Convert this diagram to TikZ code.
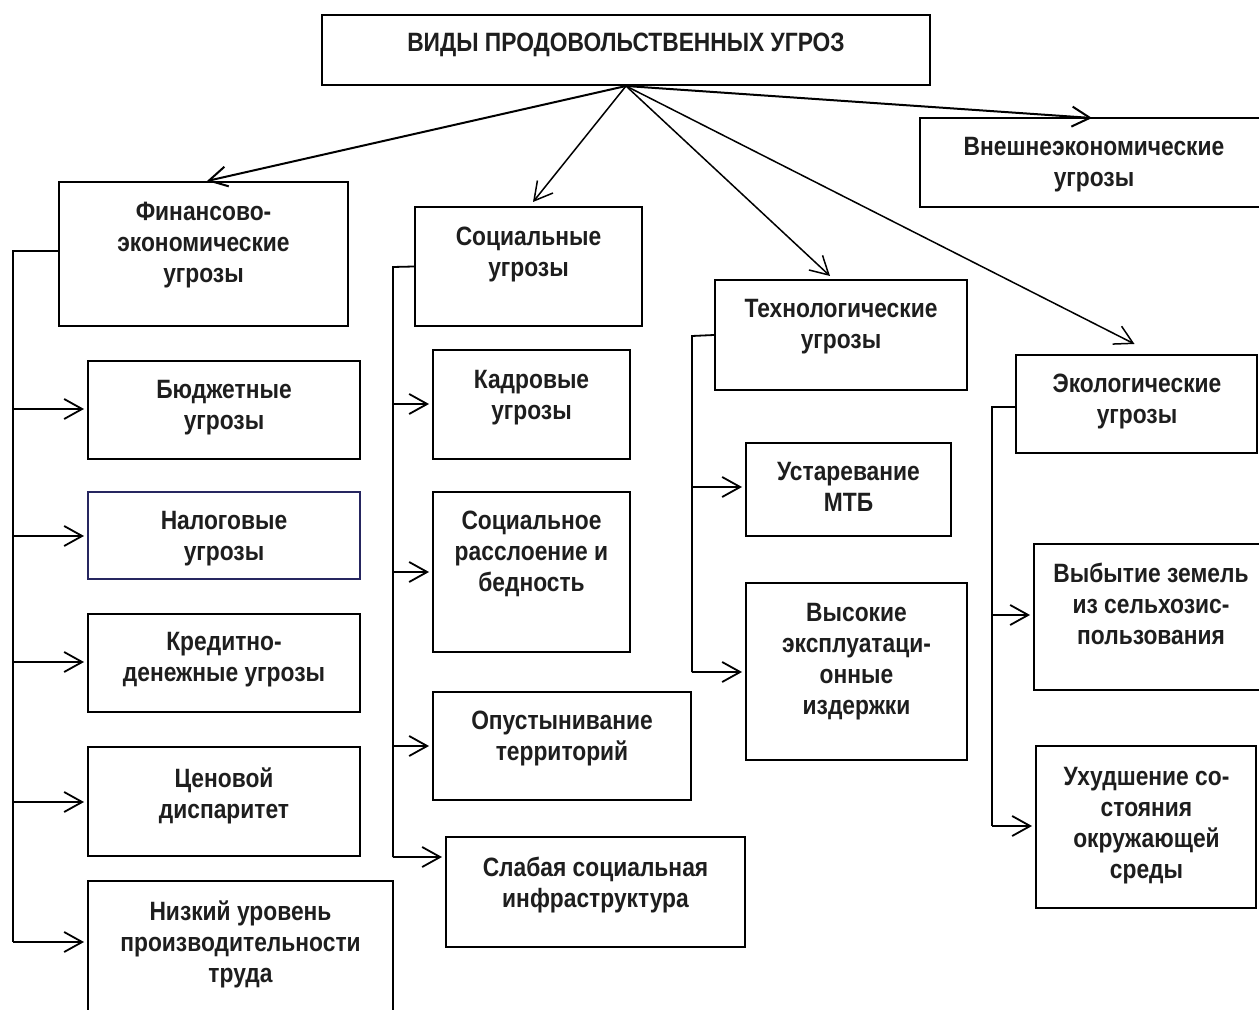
\documentclass[tikz,border=0pt]{standalone}
\usepackage{fontspec}
\newfontfamily\nar{Liberation Sans}[FakeStretch=0.86]
\usetikzlibrary{arrows.meta,fit}
\definecolor{taxedge}{RGB}{38,38,96}
\definecolor{ink}{RGB}{30,30,30}
\begin{document}
\begin{tikzpicture}[x=0.5pt,y=-0.5pt,
  box/.style={draw=black,line width=1pt,inner sep=0pt},
  txt/.style={font={\nar\bfseries\fontsize{13.25pt}{15.5pt}\selectfont},align=center,inner sep=0pt,text=ink,anchor=north},
  arr/.style={line width=0.9pt,-{Straight Barb[length=9pt,width=10pt]},shorten >=1.5pt},
  toparr/.style={line width=0.75pt,-{Straight Barb[length=9pt,width=10pt]}},
  trunk/.style={line width=0.9pt}]
\useasboundingbox (0,0) rectangle (1259,1010);
\clip (0,0) rectangle (1259,1010);
% boxes
\node[box,fit={(322,15)(930,85)}] (title) {};
\node[box,fit={(59,182)(348,326)}] (fin) {};
\node[box,fit={(415,207)(642,326)}] (soc) {};
\node[box,fit={(715,280)(967,390)}] (tech) {};
\node[box,fit={(1016,355)(1257,453)}] (eco) {};
\node[box,fit={(920,118)(1275,207)}] (ext) {};
\node[box,fit={(88,361)(360,459)}] (budget) {};
\node[box,draw=taxedge,fit={(88,492)(360,579)}] (tax) {};
\node[box,fit={(88,614)(360,712)}] (credit) {};
\node[box,fit={(88,747)(360,856)}] (price) {};
\node[box,fit={(88,881)(393,1040)}] (low) {};
\node[box,fit={(433,350)(630,459)}] (kadr) {};
\node[box,fit={(433,492)(630,652)}] (strat) {};
\node[box,fit={(433,692)(691,800)}] (opust) {};
\node[box,fit={(446,837)(745,947)}] (weak) {};
\node[box,fit={(746,443)(951,536)}] (ustar) {};
\node[box,fit={(746,583)(967,760)}] (vys) {};
\node[box,fit={(1034,544)(1275,690)}] (vybyt) {};
\node[box,fit={(1036,746)(1256,908)}] (ukhud) {};
% texts
\node[txt] (title-t) at (626,33) {ВИДЫ ПРОДОВОЛЬСТВЕННЫХ УГРОЗ};
\node[txt] (fin-t) at (203.5,202) {Финансово-\\экономические\\угрозы};
\node[txt] (soc-t) at (528.5,227) {Социальные\\угрозы};
\node[txt] (tech-t) at (841,299) {Технологические\\угрозы};
\node[txt] (eco-t) at (1137,374) {Экологические\\угрозы};
\node[txt] (ext-t) at (1094,137) {Внешнеэкономические\\угрозы};
\node[txt] (budget-t) at (224,380) {Бюджетные\\угрозы};
\node[txt] (tax-t) at (224,511) {Налоговые\\угрозы};
\node[txt] (credit-t) at (224,632) {Кредитно-\\денежные угрозы};
\node[txt] (price-t) at (224,767) {Ценовой\\диспаритет};
\node[txt] (low-t) at (240.5,900) {Низкий уровень\\производительности\\труда};
\node[txt] (kadr-t) at (531.5,370) {Кадровые\\угрозы};
\node[txt] (strat-t) at (531.5,511) {Социальное\\расслоение и\\бедность};
\node[txt] (opust-t) at (562,711) {Опустынивание\\территорий};
\node[txt] (weak-t) at (595.5,857) {Слабая социальная\\инфраструктура};
\node[txt] (ustar-t) at (848.5,462) {Устаревание\\МТБ};
\node[txt] (vys-t) at (856.5,603) {Высокие\\эксплуатаци-\\онные\\издержки};
\node[txt] (vybyt-t) at (1151,563) {Выбытие земель\\из сельхозис-\\пользования};
\node[txt] (ukhud-t) at (1146.5,767) {Ухудшение со-\\стояния\\окружающей\\среды};
% top-level arrows
\draw[toparr,line width=1pt] (title.south) -- ([xshift=1.75pt]fin.north);
\draw[toparr] (title.south) -- ([xshift=2.25pt,yshift=2pt]soc.north);
\draw[toparr] (title.south) -- ([xshift=-5.5pt,yshift=1.5pt]tech.north);
\draw[toparr] (title.south) -- ([xshift=-1pt,yshift=5pt]eco.north);
\draw[toparr,line width=1pt] (title.south) -- (1092,118);
% financial branch
\coordinate (fj) at (13,251);
\draw[trunk] ([yshift=1.5pt]fin.west) -- (fj) -- (13,942);
\draw[arr] (13,409) -- (budget.west |- 13,409);
\draw[arr] (13,536) -- (tax.west |- 13,536);
\draw[arr] (13,662) -- (credit.west |- 13,662);
\draw[arr] (13,802) -- (price.west |- 13,802);
\draw[arr] (13,942) -- (low.west |- 13,942);
% social branch
\coordinate (sj) at (393,267);
\draw[trunk] (soc.west) -- (sj) -- (393,857);
\draw[arr] (393,404) -- (kadr.west |- 393,404);
\draw[arr] (393,572) -- (strat.west |- 393,572);
\draw[arr] (393,746) -- (opust.west |- 393,746);
\draw[arr] (393,857) -- (weak.west |- 393,857);
% tech branch
\coordinate (tj) at (692,336);
\draw[trunk] (tech.west) -- (tj) -- (692,672);
\draw[arr] (692,487) -- (ustar.west |- 692,487);
\draw[arr] (692,672) -- (vys.west |- 692,672);
% eco branch
\coordinate (ej) at (992,407);
\draw[trunk] (eco.west |- ej) -- (ej) -- (992,826);
\draw[arr] (992,615) -- (vybyt.west |- 992,615);
\draw[arr] (992,826) -- (ukhud.west |- 992,826);
\end{tikzpicture}
\end{document}
